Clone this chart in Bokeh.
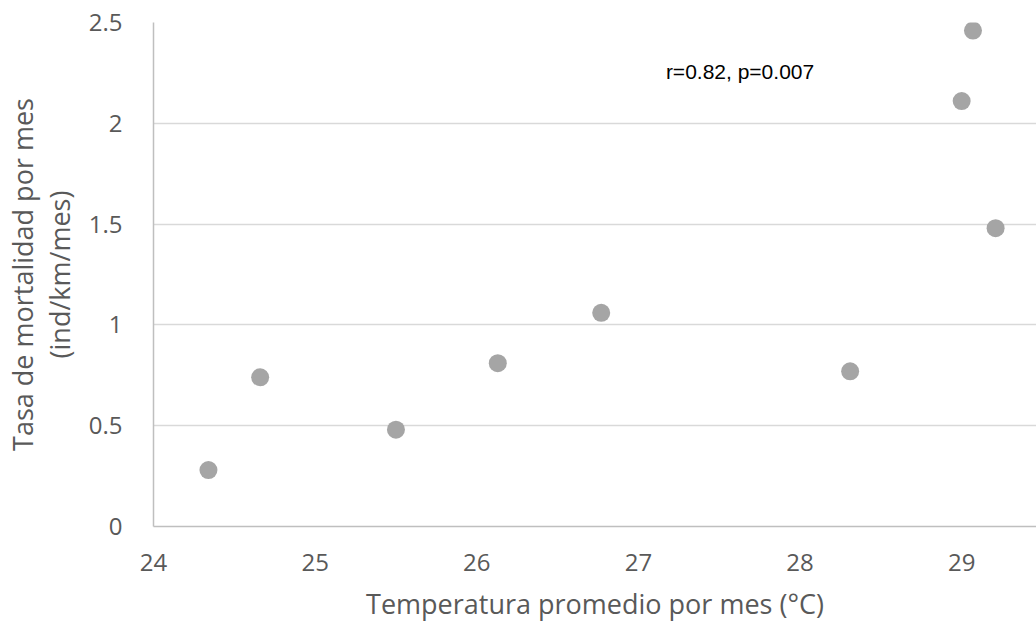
from bokeh.plotting import figure
from bokeh.models import Range1d, FixedTicker, Label
from bokeh.embed import file_html
from bokeh.resources import INLINE

temperature = [24.34, 24.66, 25.50, 26.13, 26.77, 28.31, 29.00, 29.07, 29.21]
mortality = [0.28, 0.74, 0.48, 0.81, 1.06, 0.77, 2.11, 2.46, 1.48]
x_ticks = [24, 25, 26, 27, 28, 29]
y_ticks = [0, 0.5, 1, 1.5, 2, 2.5]
y_tick_labels = ["0", "0.5", "1", "1.5", "2", "2.5"]
x_title = "Temperatura promedio por mes (°C)"
y_title = "Tasa de mortalidad por mes\n(ind/km/mes)"
annotation = "r=0.82, p=0.007"

FONT = "Open Sans"
GREY = "#595959"

p = figure(width=1036, height=627, output_backend="svg", toolbar_location=None,
           x_range=Range1d(24, 29.463), y_range=Range1d(0, 2.5),
           min_border_left=152, min_border_right=0, min_border_top=22,
           min_border_bottom=101)
p.outline_line_color = None
p.background_fill_color = "white"
p.border_fill_color = "white"

p.scatter(temperature, mortality, size=18, color="#A5A5A5", line_color=None)

p.xaxis.ticker = FixedTicker(ticks=x_ticks)
p.yaxis.ticker = FixedTicker(ticks=y_ticks)
p.yaxis.major_label_overrides = {t: l for t, l in zip(y_ticks, y_tick_labels)}
p.xaxis.major_label_overrides = {t: str(t) for t in x_ticks}

for ax in (p.xaxis, p.yaxis):
    ax.major_tick_line_color = None
    ax.minor_tick_line_color = None
    ax.axis_line_color = "#BFBFBF"
    ax.axis_line_width = 1.5
    ax.major_label_text_font = FONT
    ax.major_label_text_font_size = "24px"
    ax.major_label_text_color = GREY
    ax.axis_label_text_font = FONT
    ax.axis_label_text_font_size = "27px"
    ax.axis_label_text_font_style = "normal"
    ax.axis_label_text_color = GREY

p.xaxis.major_label_standoff = 21
p.yaxis.major_label_standoff = 25
p.xaxis.axis_label = x_title
p.xaxis.axis_label_standoff = 11
p.yaxis.axis_label = y_title
p.yaxis.axis_label_standoff = 8
p.yaxis.axis_label_text_line_height = 1.0

p.xgrid.grid_line_color = None
p.ygrid.grid_line_color = "#D9D9D9"
p.ygrid.grid_line_width = 1.5

p.add_layout(Label(x=27.17, y=2.258, text=annotation, text_font="Liberation Sans",
                   text_font_size="21px", text_color="black",
                   text_align="left", text_baseline="middle"))

open("out.html", "w").write(file_html(p, INLINE))
